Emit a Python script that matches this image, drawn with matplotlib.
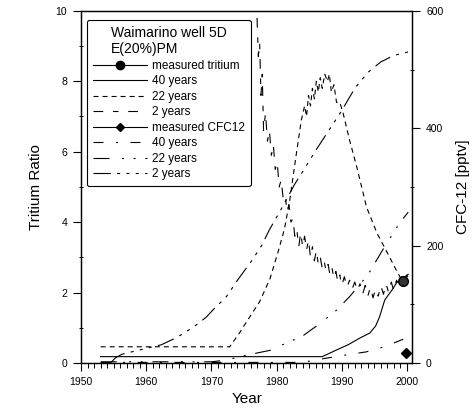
import numpy as np
import matplotlib.pyplot as plt
from matplotlib.lines import Line2D
from matplotlib.ticker import MultipleLocator

plt.rcParams['font.family'] = ['Liberation Sans', 'DejaVu Sans']
plt.rcParams['lines.scale_dashes'] = False

# measured values
meas_tritium_year, meas_tritium = 1999.4, 2.33
meas_cfc_year, meas_cfc = 1999.8, 17

# tritium model curves (tritium ratio)
t40_year = [1953, 1987.0, 1989.2, 1991.0, 1992.8, 1994.3, 1995.2, 1995.8, 1996.6, 1997.7, 1998.5, 1999.4, 2000.2]
t40_val = [0.18, 0.18, 0.37, 0.52, 0.71, 0.85, 1.05, 1.31, 1.79, 2.07, 2.30, 2.41, 2.52]

t22_year = [1953, 1972.8, 1974.3, 1975.5, 1977.4, 1979.0, 1980.3, 1981.2, 1982.0, 1983.0, 1983.8,
            1984.3, 1984.6, 1984.9, 1985.2, 1985.5, 1985.8, 1986.1, 1986.4, 1986.7, 1987.0,
            1987.4, 1987.8, 1988.1, 1988.4, 1988.8, 1989.2, 1989.7, 1990.2, 1991.2, 1992.3,
            1993.8, 1995.4, 1996.6, 1998.5, 1999.2, 2000.3]
t22_val = [0.46, 0.46, 0.85, 1.2, 1.74, 2.4, 3.2, 3.8, 4.6, 5.9, 6.9,
           7.3, 7.0, 7.6, 7.3, 7.8, 7.5, 8.0, 7.7, 8.1, 7.8,
           8.2, 8.0, 8.2, 7.7, 7.9, 7.4, 7.4, 7.1, 6.33, 5.57,
           4.43, 3.69, 3.27, 2.59, 2.36, 2.15]

t2_year = [1977.0, 1977.2, 1977.4, 1977.6, 1977.8, 1978.0, 1978.3, 1978.6, 1978.9, 1979.2,
           1979.5, 1979.8, 1980.1, 1980.4, 1980.7, 1981.0, 1981.3, 1981.6, 1981.9, 1982.2,
           1982.5, 1982.8, 1983.1, 1983.4, 1983.7, 1984.0, 1984.3, 1984.6, 1984.9, 1985.2,
           1985.5, 1985.8, 1986.1, 1986.4, 1986.7, 1987.0, 1987.3, 1987.6, 1987.9, 1988.2,
           1988.5, 1988.8, 1989.1, 1989.4, 1989.7, 1990.0, 1990.4, 1990.8, 1991.2, 1991.6,
           1992.0, 1992.4, 1992.8, 1993.2, 1993.6, 1994.0, 1994.4, 1994.8, 1995.2, 1995.6,
           1996.0, 1996.4, 1996.8, 1997.2, 1997.6, 1998.0, 1998.4, 1998.8, 1999.2, 1999.6,
           2000.0, 2000.4]
t2_val = [9.8, 8.7, 9.1, 7.6, 8.2, 6.6, 7.1, 6.3, 6.6, 5.9,
          6.2, 5.5, 5.7, 5.0, 5.2, 4.7, 4.8, 4.3, 4.5, 4.0,
          4.1, 3.6, 3.8, 3.3, 3.7, 3.3, 3.6, 3.2, 3.5, 3.0,
          3.3, 2.9, 3.2, 2.8, 3.0, 2.7, 2.9, 2.6, 2.8, 2.5,
          2.7, 2.4, 2.6, 2.3, 2.5, 2.2, 2.45, 2.15, 2.35, 2.1,
          2.3, 2.05, 2.25, 1.95, 2.2, 1.9, 2.15, 1.85, 2.1, 1.9,
          2.2, 1.95, 2.25, 2.0, 2.3, 2.05, 2.35, 2.15, 2.45, 2.25,
          2.5, 2.35]

# CFC-12 model curves (pptv)
c40_year = [1953, 1983, 1985, 1987, 1990.8, 1993.8, 1996.3, 1998.2, 2000.2]
c40_val = [1, 1, 3, 7, 14, 19, 27, 35, 44]

c22_year = [1953, 1970, 1972.3, 1974.8, 1977, 1979.2, 1980.9, 1984, 1987, 1989.2, 1991.2,
            1994, 1996.3, 1998.9, 2000.2]
c22_val = [2, 2, 5, 12, 17, 22, 31, 46, 70, 90, 113, 150, 193, 239, 257]

c2_year = [1954.5, 1955.3, 1956.3, 1958.9, 1962.3, 1964.6, 1966.1, 1967.7, 1969.2, 1970.2,
           1972.3, 1974.0, 1976.3, 1977.7, 1978.9, 1980.9, 1982.8, 1984.0, 1986.0, 1988.0,
           1990.0, 1992.0, 1994.0, 1996.0, 1998.0, 2000.2]
c2_val = [0, 9, 15, 22, 31, 43, 53, 65, 78, 90,
          113, 141, 176, 200, 227, 266, 305, 326, 362, 396,
          430, 468, 495, 513, 524, 530]

labels = ['measured tritium', '40 years', '22 years', '2 years',
          'measured CFC12', '40 years', '22 years', '2 years']

lw = 0.8
st_t40 = '-'
st_t22 = (0, (3.6, 2.9))
st_t2 = (0, (7, 7, 4, 7))
st_c40 = (0, (7.2, 9, 1.4, 9))
st_c22 = (0, (11.5, 9, 1.4, 7, 1.4, 7))
st_c2 = (0, (12.5, 4.5, 2.2, 4.5, 2.2, 4.5, 2.2, 4.5))

fig = plt.figure(figsize=(4.77, 4.09), dpi=100)
ax = fig.add_axes([0.170, 0.1125, 0.694, 0.861])
ax2 = ax.twinx()

ax.plot(t40_year, t40_val, color='k', lw=lw, ls=st_t40)
ax.plot(t22_year, t22_val, color='k', lw=lw, ls=st_t22)
ax.plot(t2_year, t2_val, color='k', lw=lw, ls=st_t2)
ax.plot(meas_tritium_year, meas_tritium, 'o', color='k', ms=7, mfc='#333333')

ax2.plot(c40_year, c40_val, color='k', lw=lw, ls=st_c40)
ax2.plot(c22_year, c22_val, color='k', lw=lw, ls=st_c22)
ax2.plot(c2_year, c2_val, color='k', lw=lw, ls=st_c2)
ax2.plot(meas_cfc_year, meas_cfc, 'D', color='k', ms=5.5)

ax.set_xlim(1950, 2000.8)
ax.set_ylim(0, 10)
ax2.set_ylim(0, 600)

ax.xaxis.set_major_locator(MultipleLocator(10))
ax.xaxis.set_minor_locator(MultipleLocator(1))
ax.yaxis.set_major_locator(MultipleLocator(2))
ax.yaxis.set_minor_locator(MultipleLocator(1))
ax2.yaxis.set_major_locator(MultipleLocator(200))
ax2.yaxis.set_minor_locator(MultipleLocator(100))

ax.tick_params(axis='both', which='major', direction='out', length=6, width=0.8, labelsize=7.5, pad=4)
ax.tick_params(axis='x', which='minor', direction='out', length=3.5, width=0.7)
ax.tick_params(axis='y', which='minor', direction='inout', length=3, width=0.7)
ax2.tick_params(axis='y', which='major', direction='out', length=6, width=0.8, labelsize=7.5, pad=4)
ax2.tick_params(axis='y', which='minor', direction='inout', length=3, width=0.7)

for a in (ax, ax2):
    for s in a.spines.values():
        s.set_linewidth(0.9)

ax.set_xlabel('Year', fontsize=11, labelpad=4)
ax.set_ylabel('Tritium Ratio', fontsize=11, labelpad=9)
ax2.set_ylabel('CFC-12 [pptv]', fontsize=11, labelpad=9)

handles = [
    Line2D([], [], color='k', lw=lw, marker='o', ms=6),
    Line2D([], [], color='k', lw=lw, ls=st_t40),
    Line2D([], [], color='k', lw=lw, ls=st_t22),
    Line2D([], [], color='k', lw=lw, ls=st_t2),
    Line2D([], [], color='k', lw=lw, marker='D', ms=4.5),
    Line2D([], [], color='k', lw=lw, ls=st_c40),
    Line2D([], [], color='k', lw=lw, ls=st_c22),
    Line2D([], [], color='k', lw=lw, ls=st_c2),
]
leg = ax2.legend(handles, labels, title='Waimarino well 5D\nE(20%)PM',
                 loc='upper left', bbox_to_anchor=(0.018, 0.974), borderaxespad=0,
                 fontsize=8.5, title_fontsize=10, handlelength=4.6, handletextpad=0.4,
                 labelspacing=0.3, frameon=True, fancybox=True, edgecolor='k',
                 framealpha=1, borderpad=0.5)
leg.get_frame().set_linewidth(0.8)
leg.get_title().set_multialignment('left')

fig.savefig('out.png', dpi=100)
